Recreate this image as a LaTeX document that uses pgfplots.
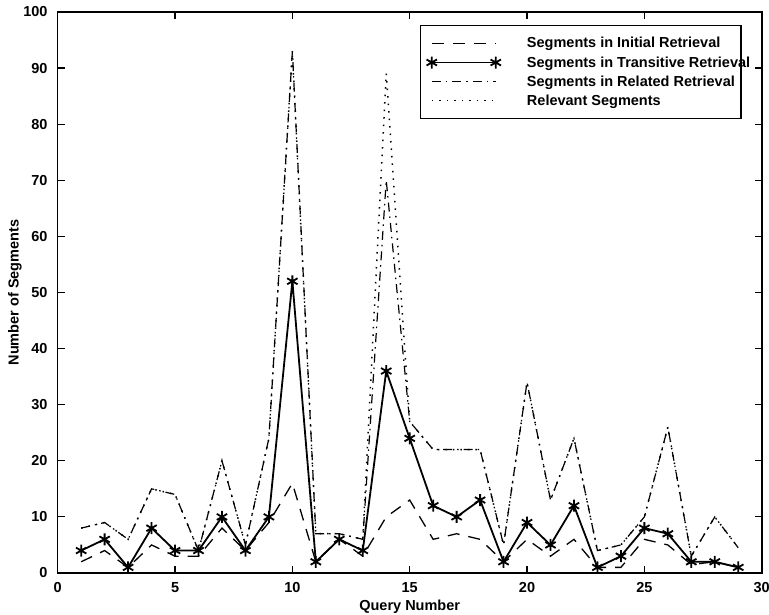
\documentclass[border=0pt]{standalone}
\usepackage{fontspec}
\setmainfont{Liberation Sans}
\usepackage{pgfplots}
\usepackage{pgfplotstable}
\pgfplotsset{compat=1.18}

% query, initial, transitive, related, relevant
\pgfplotstableread{
q  init trans rel  relev
1  2    4     8    8
2  4    6     9    9
3  1    1     6    6
4  5    8     15   15
5  3    4     14   14
6  3    4     4    4
7  8    10    20   20
8  4    4     5    5
9  9    10    24   24
10 16   52    93   93
11 2    2     7    7
12 6    6     7    7
13 3    4     6    6
14 10   36    70   89
15 13   24    27   27
16 6    12    22   22
17 7    10    22   22
18 6    13    22   22
19 2    2     5    5
20 6    9     34   34
21 3    5     13   13
22 6    12    24   24
23 1    1     4    4
24 1    3     5    5
25 6    8     10   10
26 5    7     26   26
27 1.5  2     3    3
28 2    2     10   10
29 1    1     4.5  4.5
}\segs

\newcommand{\lblfont}{\fontsize{14.5}{15}\selectfont\bfseries}
\newcommand{\entry}[1]{\hspace*{24pt}\makebox[206pt][l]{#1}}

\begin{document}
\begin{tikzpicture}
\begin{axis}[
    scale only axis,
    width=704pt, height=561pt,
    xmin=0, xmax=30, ymin=0, ymax=100,
    xtick={0,5,...,30}, ytick={0,10,...,100},
    tick align=inside, major tick length=7pt,
    axis line style={line width=1.6pt},
    every tick/.style={black, line width=1.2pt},
    /pgf/number format/assume math mode=true,
    tick label style={font=\lblfont},
    xticklabel style={inner sep=0pt, yshift=-9pt},
    yticklabel style={inner sep=0pt, xshift=-10pt},
    xlabel={Query Number},
    ylabel={Number of Segments},
    every axis x label/.style={at={(axis description cs:0.5,0)},
        anchor=base, yshift=-38pt, font=\lblfont},
    every axis y label/.style={at={(axis description cs:0,0.5)},
        rotate=90, anchor=center, yshift=42.7pt, font=\lblfont},
    legend cell align=left,
    legend image code/.code={
        \draw[#1] plot coordinates {(0pt,0pt) (64pt,0pt)};
    },
    legend style={
        at={(0.5146,0.977)}, anchor=north west,
        draw=black, line width=1.2pt,
        font=\lblfont,
        inner xsep=6pt, inner ysep=10pt,
        row sep=3pt,
        nodes={inner ysep=2pt},
    },
]
\addplot[black, line width=1.3pt, dash pattern=on 12pt off 9pt]
    table[x=q, y=init] {\segs};
\addlegendentry{\entry{Segments in Initial Retrieval}}
\addplot[black, line width=1.8pt, mark=asterisk, mark size=6pt,
    mark options={solid, line width=1.8pt}]
    table[x=q, y=trans] {\segs};
\addlegendentry{\entry{Segments in Transitive Retrieval}}
\addplot[black, line width=1.2pt, dash pattern=on 9pt off 5pt on 1.5pt off 5pt]
    table[x=q, y=rel] {\segs};
\addlegendentry{\entry{Segments in Related Retrieval}}
\addplot[black, line width=1.5pt, dash pattern=on 1.5pt off 6pt]
    table[x=q, y=relev] {\segs};
\addlegendentry{\entry{Relevant Segments}}
\end{axis}
\pgfresetboundingbox
\path[use as bounding box] (-57.7pt,-41.7pt) rectangle (711.3pt,573pt);
\end{tikzpicture}
\end{document}
